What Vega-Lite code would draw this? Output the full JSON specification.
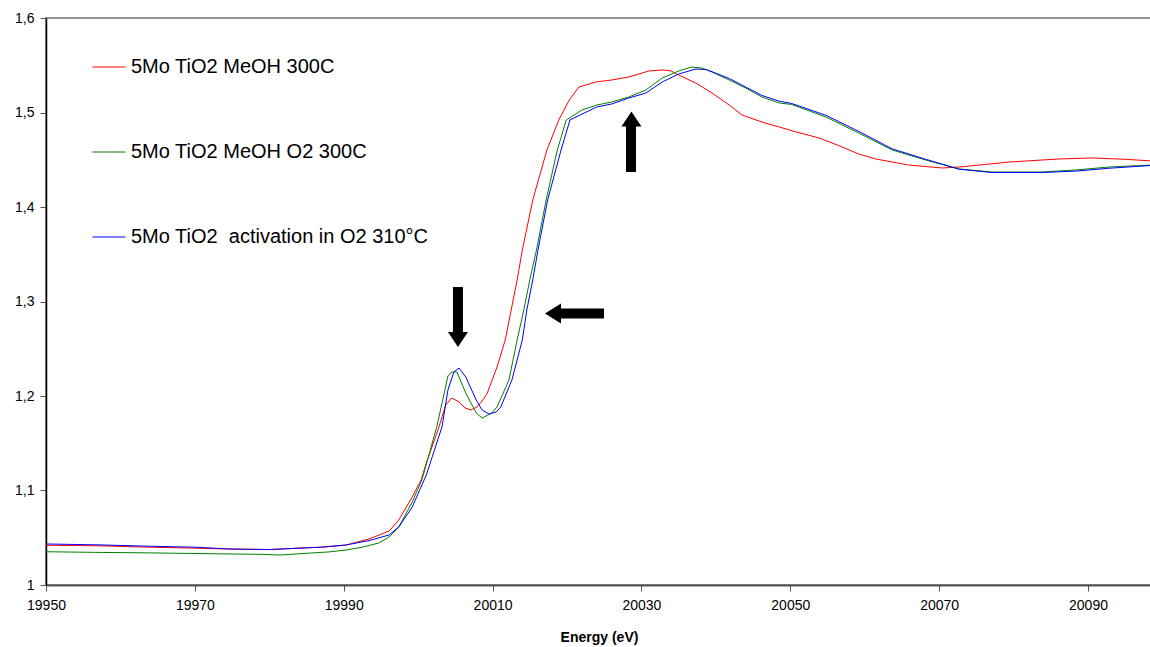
{
  "$schema": "https://vega.github.io/schema/vega-lite/v6.json",
  "width": 1106,
  "height": 567,
  "autosize": {"type": "none"},
  "padding": {"left": 46, "top": 18, "right": 0, "bottom": 62},
  "background": "white",
  "config": {
    "font": "Liberation Sans",
    "view": {"stroke": "#969696", "strokeWidth": 2},
    "axisX": {"labelFontSize": 14, "labelColor": "black", "labelFlush": false, "labelBound": false, "labelPadding": 7, "domainColor": "#555555", "domainWidth": 2, "tickColor": "#555555", "tickSize": 6, "tickWidth": 1, "grid": false, "titleFontSize": 14, "titleFontWeight": "bold", "titleColor": "black", "titlePadding": 18, "labelOverlap": false},
    "axisY": {"labelFontSize": 14, "labelColor": "black", "labelPadding": 6, "domainColor": "black", "domainWidth": 1.5, "tickColor": "#555555", "tickSize": 6, "tickWidth": 1, "grid": false, "labelOverlap": false}
  },
  "datasets": {
    "spectra": [
      {"series": "5Mo TiO2 MeOH 300C", "energy": 19950, "absorbance": 1.042},
      {"series": "5Mo TiO2 MeOH 300C", "energy": 19957, "absorbance": 1.0415},
      {"series": "5Mo TiO2 MeOH 300C", "energy": 19964, "absorbance": 1.040},
      {"series": "5Mo TiO2 MeOH 300C", "energy": 19970, "absorbance": 1.039},
      {"series": "5Mo TiO2 MeOH 300C", "energy": 19975, "absorbance": 1.038},
      {"series": "5Mo TiO2 MeOH 300C", "energy": 19980, "absorbance": 1.0375},
      {"series": "5Mo TiO2 MeOH 300C", "energy": 19984, "absorbance": 1.039},
      {"series": "5Mo TiO2 MeOH 300C", "energy": 19987, "absorbance": 1.040},
      {"series": "5Mo TiO2 MeOH 300C", "energy": 19990.3, "absorbance": 1.0423},
      {"series": "5Mo TiO2 MeOH 300C", "energy": 19993.4, "absorbance": 1.0487},
      {"series": "5Mo TiO2 MeOH 300C", "energy": 19996.1, "absorbance": 1.0571},
      {"series": "5Mo TiO2 MeOH 300C", "energy": 19997.4, "absorbance": 1.0688},
      {"series": "5Mo TiO2 MeOH 300C", "energy": 19999.2, "absorbance": 1.0931},
      {"series": "5Mo TiO2 MeOH 300C", "energy": 20000.4, "absorbance": 1.1111},
      {"series": "5Mo TiO2 MeOH 300C", "energy": 20001.1, "absorbance": 1.1291},
      {"series": "5Mo TiO2 MeOH 300C", "energy": 20002.8, "absorbance": 1.1672},
      {"series": "5Mo TiO2 MeOH 300C", "energy": 20003.7, "absorbance": 1.1905},
      {"series": "5Mo TiO2 MeOH 300C", "energy": 20004.5, "absorbance": 1.1979},
      {"series": "5Mo TiO2 MeOH 300C", "energy": 20005.5, "absorbance": 1.1937},
      {"series": "5Mo TiO2 MeOH 300C", "energy": 20006.3, "absorbance": 1.1873},
      {"series": "5Mo TiO2 MeOH 300C", "energy": 20007.1, "absorbance": 1.1852},
      {"series": "5Mo TiO2 MeOH 300C", "energy": 20007.9, "absorbance": 1.1884},
      {"series": "5Mo TiO2 MeOH 300C", "energy": 20008.7, "absorbance": 1.1958},
      {"series": "5Mo TiO2 MeOH 300C", "energy": 20009.3, "absorbance": 1.2032},
      {"series": "5Mo TiO2 MeOH 300C", "energy": 20010.6, "absorbance": 1.2307},
      {"series": "5Mo TiO2 MeOH 300C", "energy": 20011.7, "absorbance": 1.2593},
      {"series": "5Mo TiO2 MeOH 300C", "energy": 20012.5, "absorbance": 1.2910},
      {"series": "5Mo TiO2 MeOH 300C", "energy": 20013.3, "absorbance": 1.3228},
      {"series": "5Mo TiO2 MeOH 300C", "energy": 20014.0, "absorbance": 1.3545},
      {"series": "5Mo TiO2 MeOH 300C", "energy": 20015.4, "absorbance": 1.4074},
      {"series": "5Mo TiO2 MeOH 300C", "energy": 20017.3, "absorbance": 1.4603},
      {"series": "5Mo TiO2 MeOH 300C", "energy": 20018.9, "absorbance": 1.4921},
      {"series": "5Mo TiO2 MeOH 300C", "energy": 20020.3, "absorbance": 1.5132},
      {"series": "5Mo TiO2 MeOH 300C", "energy": 20021.6, "absorbance": 1.5270},
      {"series": "5Mo TiO2 MeOH 300C", "energy": 20023.9, "absorbance": 1.5323},
      {"series": "5Mo TiO2 MeOH 300C", "energy": 20026.0, "absorbance": 1.5344},
      {"series": "5Mo TiO2 MeOH 300C", "energy": 20028.3, "absorbance": 1.5376},
      {"series": "5Mo TiO2 MeOH 300C", "energy": 20031.0, "absorbance": 1.5439},
      {"series": "5Mo TiO2 MeOH 300C", "energy": 20032.8, "absorbance": 1.5450},
      {"series": "5Mo TiO2 MeOH 300C", "energy": 20034.0, "absorbance": 1.5439},
      {"series": "5Mo TiO2 MeOH 300C", "energy": 20035.0, "absorbance": 1.5397},
      {"series": "5Mo TiO2 MeOH 300C", "energy": 20037.3, "absorbance": 1.5312},
      {"series": "5Mo TiO2 MeOH 300C", "energy": 20039.5, "absorbance": 1.5206},
      {"series": "5Mo TiO2 MeOH 300C", "energy": 20041.8, "absorbance": 1.5079},
      {"series": "5Mo TiO2 MeOH 300C", "energy": 20043.5, "absorbance": 1.4974},
      {"series": "5Mo TiO2 MeOH 300C", "energy": 20046.2, "absorbance": 1.4899},
      {"series": "5Mo TiO2 MeOH 300C", "energy": 20048.5, "absorbance": 1.4847},
      {"series": "5Mo TiO2 MeOH 300C", "energy": 20050.8, "absorbance": 1.4794},
      {"series": "5Mo TiO2 MeOH 300C", "energy": 20053.9, "absorbance": 1.4730},
      {"series": "5Mo TiO2 MeOH 300C", "energy": 20056.5, "absorbance": 1.4650},
      {"series": "5Mo TiO2 MeOH 300C", "energy": 20059.2, "absorbance": 1.4561},
      {"series": "5Mo TiO2 MeOH 300C", "energy": 20061.5, "absorbance": 1.4508},
      {"series": "5Mo TiO2 MeOH 300C", "energy": 20065.9, "absorbance": 1.4444},
      {"series": "5Mo TiO2 MeOH 300C", "energy": 20070.4, "absorbance": 1.4413},
      {"series": "5Mo TiO2 MeOH 300C", "energy": 20072.7, "absorbance": 1.4423},
      {"series": "5Mo TiO2 MeOH 300C", "energy": 20079.4, "absorbance": 1.4476},
      {"series": "5Mo TiO2 MeOH 300C", "energy": 20086.1, "absorbance": 1.4508},
      {"series": "5Mo TiO2 MeOH 300C", "energy": 20090.5, "absorbance": 1.4519},
      {"series": "5Mo TiO2 MeOH 300C", "energy": 20095.0, "absorbance": 1.4505},
      {"series": "5Mo TiO2 MeOH 300C", "energy": 20098.6, "absorbance": 1.4487},

      {"series": "5Mo TiO2 MeOH O2 300C", "energy": 19950, "absorbance": 1.0352},
      {"series": "5Mo TiO2 MeOH O2 300C", "energy": 19957, "absorbance": 1.0345},
      {"series": "5Mo TiO2 MeOH O2 300C", "energy": 19964, "absorbance": 1.034},
      {"series": "5Mo TiO2 MeOH O2 300C", "energy": 19970, "absorbance": 1.0333},
      {"series": "5Mo TiO2 MeOH O2 300C", "energy": 19975, "absorbance": 1.0328},
      {"series": "5Mo TiO2 MeOH O2 300C", "energy": 19979, "absorbance": 1.0325},
      {"series": "5Mo TiO2 MeOH O2 300C", "energy": 19981.3, "absorbance": 1.0317},
      {"series": "5Mo TiO2 MeOH O2 300C", "energy": 19983, "absorbance": 1.0325},
      {"series": "5Mo TiO2 MeOH O2 300C", "energy": 19985.7, "absorbance": 1.0339},
      {"series": "5Mo TiO2 MeOH O2 300C", "energy": 19988, "absorbance": 1.035},
      {"series": "5Mo TiO2 MeOH O2 300C", "energy": 19990.3, "absorbance": 1.0370},
      {"series": "5Mo TiO2 MeOH O2 300C", "energy": 19992.5, "absorbance": 1.040},
      {"series": "5Mo TiO2 MeOH O2 300C", "energy": 19994.7, "absorbance": 1.0444},
      {"series": "5Mo TiO2 MeOH O2 300C", "energy": 19996.1, "absorbance": 1.0508},
      {"series": "5Mo TiO2 MeOH O2 300C", "energy": 19997.4, "absorbance": 1.0614},
      {"series": "5Mo TiO2 MeOH O2 300C", "energy": 19999.2, "absorbance": 1.0878},
      {"series": "5Mo TiO2 MeOH O2 300C", "energy": 20000.5, "absorbance": 1.1111},
      {"series": "5Mo TiO2 MeOH O2 300C", "energy": 20002.5, "absorbance": 1.1672},
      {"series": "5Mo TiO2 MeOH O2 300C", "energy": 20003.6, "absorbance": 1.2063},
      {"series": "5Mo TiO2 MeOH O2 300C", "energy": 20004.0, "absorbance": 1.2212},
      {"series": "5Mo TiO2 MeOH O2 300C", "energy": 20004.5, "absorbance": 1.2254},
      {"series": "5Mo TiO2 MeOH O2 300C", "energy": 20005.2, "absorbance": 1.2254},
      {"series": "5Mo TiO2 MeOH O2 300C", "energy": 20006.4, "absorbance": 1.2032},
      {"series": "5Mo TiO2 MeOH O2 300C", "energy": 20007.8, "absorbance": 1.1820},
      {"series": "5Mo TiO2 MeOH O2 300C", "energy": 20008.6, "absorbance": 1.1767},
      {"series": "5Mo TiO2 MeOH O2 300C", "energy": 20009.9, "absorbance": 1.1820},
      {"series": "5Mo TiO2 MeOH O2 300C", "energy": 20010.6, "absorbance": 1.1884},
      {"series": "5Mo TiO2 MeOH O2 300C", "energy": 20012.2, "absorbance": 1.2169},
      {"series": "5Mo TiO2 MeOH O2 300C", "energy": 20013.3, "absorbance": 1.2593},
      {"series": "5Mo TiO2 MeOH O2 300C", "energy": 20014.2, "absorbance": 1.2910},
      {"series": "5Mo TiO2 MeOH O2 300C", "energy": 20015.0, "absorbance": 1.3228},
      {"series": "5Mo TiO2 MeOH O2 300C", "energy": 20015.9, "absorbance": 1.3545},
      {"series": "5Mo TiO2 MeOH O2 300C", "energy": 20017.2, "absorbance": 1.4074},
      {"series": "5Mo TiO2 MeOH O2 300C", "energy": 20018.7, "absorbance": 1.4603},
      {"series": "5Mo TiO2 MeOH O2 300C", "energy": 20019.9, "absorbance": 1.4921},
      {"series": "5Mo TiO2 MeOH O2 300C", "energy": 20022.0, "absorbance": 1.5026},
      {"series": "5Mo TiO2 MeOH O2 300C", "energy": 20024.0, "absorbance": 1.5079},
      {"series": "5Mo TiO2 MeOH O2 300C", "energy": 20026.0, "absorbance": 1.5111},
      {"series": "5Mo TiO2 MeOH O2 300C", "energy": 20028.3, "absorbance": 1.5164},
      {"series": "5Mo TiO2 MeOH O2 300C", "energy": 20030.6, "absorbance": 1.5238},
      {"series": "5Mo TiO2 MeOH O2 300C", "energy": 20032.8, "absorbance": 1.5365},
      {"series": "5Mo TiO2 MeOH O2 300C", "energy": 20035.0, "absorbance": 1.5439},
      {"series": "5Mo TiO2 MeOH O2 300C", "energy": 20036.7, "absorbance": 1.5481},
      {"series": "5Mo TiO2 MeOH O2 300C", "energy": 20038.1, "absorbance": 1.5471},
      {"series": "5Mo TiO2 MeOH O2 300C", "energy": 20039.5, "absorbance": 1.5429},
      {"series": "5Mo TiO2 MeOH O2 300C", "energy": 20041.8, "absorbance": 1.5344},
      {"series": "5Mo TiO2 MeOH O2 300C", "energy": 20044.0, "absorbance": 1.5259},
      {"series": "5Mo TiO2 MeOH O2 300C", "energy": 20046.2, "absorbance": 1.5164},
      {"series": "5Mo TiO2 MeOH O2 300C", "energy": 20048.5, "absorbance": 1.5101},
      {"series": "5Mo TiO2 MeOH O2 300C", "energy": 20050.2, "absorbance": 1.5085},
      {"series": "5Mo TiO2 MeOH O2 300C", "energy": 20054.8, "absorbance": 1.4952},
      {"series": "5Mo TiO2 MeOH O2 300C", "energy": 20059.2, "absorbance": 1.4783},
      {"series": "5Mo TiO2 MeOH O2 300C", "energy": 20063.7, "absorbance": 1.4603},
      {"series": "5Mo TiO2 MeOH O2 300C", "energy": 20068.2, "absorbance": 1.4497},
      {"series": "5Mo TiO2 MeOH O2 300C", "energy": 20072.7, "absorbance": 1.4402},
      {"series": "5Mo TiO2 MeOH O2 300C", "energy": 20077.1, "absorbance": 1.4370},
      {"series": "5Mo TiO2 MeOH O2 300C", "energy": 20083.8, "absorbance": 1.4370},
      {"series": "5Mo TiO2 MeOH O2 300C", "energy": 20088.4, "absorbance": 1.4392},
      {"series": "5Mo TiO2 MeOH O2 300C", "energy": 20092.8, "absorbance": 1.4423},
      {"series": "5Mo TiO2 MeOH O2 300C", "energy": 20098.6, "absorbance": 1.4444},

      {"series": "5Mo TiO2  activation in O2 310°C", "energy": 19950, "absorbance": 1.0434},
      {"series": "5Mo TiO2  activation in O2 310°C", "energy": 19957, "absorbance": 1.0425},
      {"series": "5Mo TiO2  activation in O2 310°C", "energy": 19964, "absorbance": 1.041},
      {"series": "5Mo TiO2  activation in O2 310°C", "energy": 19970, "absorbance": 1.040},
      {"series": "5Mo TiO2  activation in O2 310°C", "energy": 19975, "absorbance": 1.038},
      {"series": "5Mo TiO2  activation in O2 310°C", "energy": 19980, "absorbance": 1.0375},
      {"series": "5Mo TiO2  activation in O2 310°C", "energy": 19984, "absorbance": 1.039},
      {"series": "5Mo TiO2  activation in O2 310°C", "energy": 19987, "absorbance": 1.040},
      {"series": "5Mo TiO2  activation in O2 310°C", "energy": 19990.3, "absorbance": 1.0423},
      {"series": "5Mo TiO2  activation in O2 310°C", "energy": 19993.4, "absorbance": 1.047},
      {"series": "5Mo TiO2  activation in O2 310°C", "energy": 19996.1, "absorbance": 1.0529},
      {"series": "5Mo TiO2  activation in O2 310°C", "energy": 19997.4, "absorbance": 1.0614},
      {"series": "5Mo TiO2  activation in O2 310°C", "energy": 19999.2, "absorbance": 1.0825},
      {"series": "5Mo TiO2  activation in O2 310°C", "energy": 20001.1, "absorbance": 1.1164},
      {"series": "5Mo TiO2  activation in O2 310°C", "energy": 20003.2, "absorbance": 1.1672},
      {"series": "5Mo TiO2  activation in O2 310°C", "energy": 20004.0, "absorbance": 1.2063},
      {"series": "5Mo TiO2  activation in O2 310°C", "energy": 20004.8, "absorbance": 1.2254},
      {"series": "5Mo TiO2  activation in O2 310°C", "energy": 20005.5, "absorbance": 1.2296},
      {"series": "5Mo TiO2  activation in O2 310°C", "energy": 20006.4, "absorbance": 1.2201},
      {"series": "5Mo TiO2  activation in O2 310°C", "energy": 20007.8, "absorbance": 1.1958},
      {"series": "5Mo TiO2  activation in O2 310°C", "energy": 20008.6, "absorbance": 1.1852},
      {"series": "5Mo TiO2  activation in O2 310°C", "energy": 20009.5, "absorbance": 1.1810},
      {"series": "5Mo TiO2  activation in O2 310°C", "energy": 20010.5, "absorbance": 1.1831},
      {"series": "5Mo TiO2  activation in O2 310°C", "energy": 20011.1, "absorbance": 1.1884},
      {"series": "5Mo TiO2  activation in O2 310°C", "energy": 20012.6, "absorbance": 1.2169},
      {"series": "5Mo TiO2  activation in O2 310°C", "energy": 20014.0, "absorbance": 1.2593},
      {"series": "5Mo TiO2  activation in O2 310°C", "energy": 20014.6, "absorbance": 1.2910},
      {"series": "5Mo TiO2  activation in O2 310°C", "energy": 20015.4, "absorbance": 1.3228},
      {"series": "5Mo TiO2  activation in O2 310°C", "energy": 20016.1, "absorbance": 1.3545},
      {"series": "5Mo TiO2  activation in O2 310°C", "energy": 20017.4, "absorbance": 1.4074},
      {"series": "5Mo TiO2  activation in O2 310°C", "energy": 20019.2, "absorbance": 1.4603},
      {"series": "5Mo TiO2  activation in O2 310°C", "energy": 20020.4, "absorbance": 1.4921},
      {"series": "5Mo TiO2  activation in O2 310°C", "energy": 20022.6, "absorbance": 1.5005},
      {"series": "5Mo TiO2  activation in O2 310°C", "energy": 20024.0, "absorbance": 1.5058},
      {"series": "5Mo TiO2  activation in O2 310°C", "energy": 20026.0, "absorbance": 1.5090},
      {"series": "5Mo TiO2  activation in O2 310°C", "energy": 20028.3, "absorbance": 1.5153},
      {"series": "5Mo TiO2  activation in O2 310°C", "energy": 20030.6, "absorbance": 1.5206},
      {"series": "5Mo TiO2  activation in O2 310°C", "energy": 20032.8, "absorbance": 1.5323},
      {"series": "5Mo TiO2  activation in O2 310°C", "energy": 20035.0, "absorbance": 1.5407},
      {"series": "5Mo TiO2  activation in O2 310°C", "energy": 20037.3, "absorbance": 1.5460},
      {"series": "5Mo TiO2  activation in O2 310°C", "energy": 20038.7, "absorbance": 1.5455},
      {"series": "5Mo TiO2  activation in O2 310°C", "energy": 20041.8, "absorbance": 1.5360},
      {"series": "5Mo TiO2  activation in O2 310°C", "energy": 20044.0, "absorbance": 1.5270},
      {"series": "5Mo TiO2  activation in O2 310°C", "energy": 20046.2, "absorbance": 1.5180},
      {"series": "5Mo TiO2  activation in O2 310°C", "energy": 20048.5, "absorbance": 1.5120},
      {"series": "5Mo TiO2  activation in O2 310°C", "energy": 20050.2, "absorbance": 1.5095},
      {"series": "5Mo TiO2  activation in O2 310°C", "energy": 20054.8, "absorbance": 1.4970},
      {"series": "5Mo TiO2  activation in O2 310°C", "energy": 20059.2, "absorbance": 1.4800},
      {"series": "5Mo TiO2  activation in O2 310°C", "energy": 20063.7, "absorbance": 1.4615},
      {"series": "5Mo TiO2  activation in O2 310°C", "energy": 20068.2, "absorbance": 1.4505},
      {"series": "5Mo TiO2  activation in O2 310°C", "energy": 20072.7, "absorbance": 1.4400},
      {"series": "5Mo TiO2  activation in O2 310°C", "energy": 20077.1, "absorbance": 1.4365},
      {"series": "5Mo TiO2  activation in O2 310°C", "energy": 20083.8, "absorbance": 1.4365},
      {"series": "5Mo TiO2  activation in O2 310°C", "energy": 20088.4, "absorbance": 1.4380},
      {"series": "5Mo TiO2  activation in O2 310°C", "energy": 20092.8, "absorbance": 1.4410},
      {"series": "5Mo TiO2  activation in O2 310°C", "energy": 20098.6, "absorbance": 1.4440}
    ],
    "shafts": [
      {"energy": 20005.35, "energy2": 20005.35, "absorbance": 1.3153, "absorbance2": 1.2667},
      {"energy": 20019.06, "energy2": 20024.97, "absorbance": 1.2873, "absorbance2": 1.2873},
      {"energy": 20028.6, "energy2": 20028.6, "absorbance": 1.4857, "absorbance2": 1.4370}
    ],
    "heads": [
      {"energy": 20005.35, "absorbance": 1.2598, "dir": "down"},
      {"energy": 20018.12, "absorbance": 1.2873, "dir": "left"},
      {"energy": 20028.66, "absorbance": 1.4931, "dir": "up"}
    ]
  },
  "layer": [
    {
      "data": {"name": "spectra"},
      "mark": {"type": "line", "strokeWidth": 1, "clip": true},
      "encoding": {
        "x": {"field": "energy", "type": "quantitative", "title": "Energy (eV)",
              "scale": {"domain": [19950, 20098.6], "nice": false, "zero": false},
              "axis": {"values": [19950, 19970, 19990, 20010, 20030, 20050, 20070, 20090], "format": "d"}},
        "y": {"field": "absorbance", "type": "quantitative", "title": null,
              "scale": {"domain": [1, 1.6], "nice": false, "zero": false},
              "axis": {"values": [1, 1.1, 1.2, 1.3, 1.4, 1.5, 1.6], "labelExpr": "datum.value < 1.05 ? '1' : replace(format(datum.value, '.1f'), '.', ',')"}},
        "color": {"field": "series", "type": "nominal",
                  "scale": {"domain": ["5Mo TiO2 MeOH 300C", "5Mo TiO2 MeOH O2 300C", "5Mo TiO2  activation in O2 310°C"], "range": ["#FF0000", "#008000", "#0000FF"]},
                  "legend": {"title": null, "orient": "none", "legendX": 46, "legendY": 32, "direction": "vertical", "padding": 0, "symbolType": "stroke", "symbolSize": 1089, "symbolStrokeWidth": 1, "labelFontSize": 20, "labelFont": "Liberation Sans", "labelColor": "black", "labelOffset": 5, "rowPadding": 58, "labelLimit": 0,
                             "labelExpr": "replace(datum.label, 'TiO2  activation', 'TiO2\u00a0 activation')"}}
      }
    },
    {
      "data": {"name": "shafts"},
      "mark": {"type": "rule", "strokeWidth": 10, "color": "black", "strokeCap": "butt"},
      "encoding": {
        "x": {"field": "energy", "type": "quantitative", "title": "Energy (eV)"},
        "x2": {"field": "energy2"},
        "y": {"field": "absorbance", "type": "quantitative", "title": null},
        "y2": {"field": "absorbance2"}
      }
    },
    {
      "data": {"name": "heads"},
      "mark": {"type": "point", "filled": true, "color": "black", "size": 400, "strokeWidth": 0, "opacity": 1},
      "encoding": {
        "x": {"field": "energy", "type": "quantitative", "title": "Energy (eV)"},
        "y": {"field": "absorbance", "type": "quantitative", "title": null},
        "shape": {"field": "dir", "type": "nominal", "legend": null,
                  "scale": {"domain": ["down", "left", "up"], "range": ["M-1,-0.75L1,-0.75L0,0.75Z", "M0.8,-1L0.8,1L-0.8,0Z", "M-1,0.75L1,0.75L0,-0.75Z"]}}
      }
    }
  ]
}
